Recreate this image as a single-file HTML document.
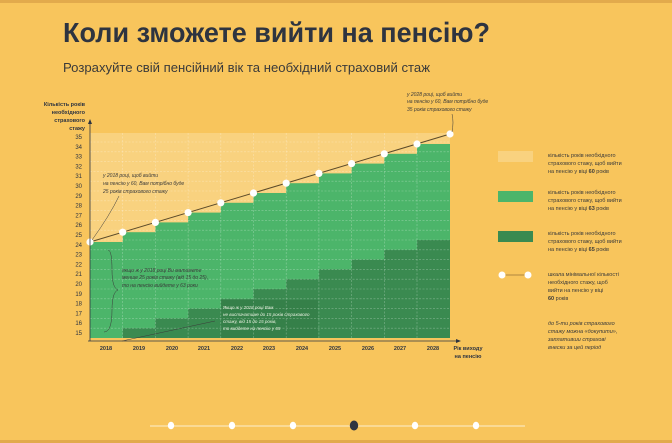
<!DOCTYPE html>
<html><head><meta charset="utf-8"><style>
html,body{margin:0;padding:0;background:#F8C55C;}
svg{display:block;font-family:"Liberation Sans",sans-serif;}
</style></head><body>
<svg width="672" height="443" viewBox="0 0 672 443" xmlns="http://www.w3.org/2000/svg">
<rect width="672" height="443" fill="#F8C55C"/>
<rect width="672" height="3" fill="#E2AA4C"/>
<rect y="440" width="672" height="3" fill="#E2AA4C"/>
<text x="63" y="42" font-size="28" font-weight="bold" fill="#2E3440" textLength="427" lengthAdjust="spacingAndGlyphs">Коли зможете вийти на пенсію?</text>
<text x="63" y="72" font-size="13" fill="#3a3a3a" textLength="367" lengthAdjust="spacingAndGlyphs">Розрахуйте свій пенсійний вік та необхідний страховий стаж</text>

<!-- plot -->
<rect x="90" y="133" width="360" height="205" fill="#F9D27F"/>
<g id="bars"></g>
<g fill="#4CB56A">
<rect x="90" y="242" width="33" height="96"/>
<rect x="122.7" y="232.2" width="33" height="105.8"/>
<rect x="155.4" y="222.4" width="33" height="115.6"/>
<rect x="188.1" y="212.6" width="33" height="125.4"/>
<rect x="220.8" y="202.8" width="33" height="135.2"/>
<rect x="253.5" y="193" width="33" height="145"/>
<rect x="286.2" y="183.2" width="33" height="154.8"/>
<rect x="318.9" y="173.4" width="33" height="164.6"/>
<rect x="351.6" y="163.6" width="33" height="174.4"/>
<rect x="384.3" y="153.8" width="33" height="184.2"/>
<rect x="417" y="144" width="33" height="194"/>
</g>
<g fill="#3A8A50">
<rect x="122.7" y="328.2" width="33" height="9.8"/>
<rect x="155.4" y="318.4" width="33" height="19.6"/>
<rect x="188.1" y="308.6" width="33" height="29.4"/>
<rect x="220.8" y="298.8" width="33" height="39.2"/>
<rect x="253.5" y="289" width="33" height="49"/>
<rect x="286.2" y="279.2" width="33" height="58.8"/>
<rect x="318.9" y="269.4" width="33" height="68.6"/>
<rect x="351.6" y="259.6" width="33" height="78.4"/>
<rect x="384.3" y="249.8" width="33" height="88.2"/>
<rect x="417" y="240" width="33" height="98"/>
</g>
<rect x="221" y="300" width="97" height="38" fill="#357E48" opacity="0.9"/>
<!-- grid -->
<g stroke="#ffffff" stroke-opacity="0.35" stroke-width="0.6" stroke-dasharray="2,1.5">
<line x1="90" x2="450" y1="328.2" y2="328.2"/><line x1="90" x2="450" y1="318.4" y2="318.4"/><line x1="90" x2="450" y1="308.6" y2="308.6"/><line x1="90" x2="450" y1="298.8" y2="298.8"/><line x1="90" x2="450" y1="289" y2="289"/><line x1="90" x2="450" y1="279.2" y2="279.2"/><line x1="90" x2="450" y1="269.4" y2="269.4"/><line x1="90" x2="450" y1="259.6" y2="259.6"/><line x1="90" x2="450" y1="249.8" y2="249.8"/><line x1="90" x2="450" y1="240" y2="240"/><line x1="90" x2="450" y1="230.2" y2="230.2"/><line x1="90" x2="450" y1="220.4" y2="220.4"/><line x1="90" x2="450" y1="210.6" y2="210.6"/><line x1="90" x2="450" y1="200.8" y2="200.8"/><line x1="90" x2="450" y1="191" y2="191"/><line x1="90" x2="450" y1="181.2" y2="181.2"/><line x1="90" x2="450" y1="171.4" y2="171.4"/><line x1="90" x2="450" y1="161.6" y2="161.6"/><line x1="90" x2="450" y1="151.8" y2="151.8"/><line x1="90" x2="450" y1="142" y2="142"/>
<line x1="122.7" x2="122.7" y1="133" y2="338"/><line x1="155.4" x2="155.4" y1="133" y2="338"/><line x1="188.1" x2="188.1" y1="133" y2="338"/><line x1="220.8" x2="220.8" y1="133" y2="338"/><line x1="253.5" x2="253.5" y1="133" y2="338"/><line x1="286.2" x2="286.2" y1="133" y2="338"/><line x1="318.9" x2="318.9" y1="133" y2="338"/><line x1="351.6" x2="351.6" y1="133" y2="338"/><line x1="384.3" x2="384.3" y1="133" y2="338"/><line x1="417" x2="417" y1="133" y2="338"/>
</g>
<!-- dotted line -->
<line x1="90" y1="242" x2="450" y2="134" stroke="#5a4a2a" stroke-width="1"/>
<g fill="#fff">
<circle cx="90" cy="242" r="3.6"/><circle cx="122.7" cy="232.2" r="3.6"/><circle cx="155.4" cy="222.4" r="3.6"/><circle cx="188.1" cy="212.6" r="3.6"/><circle cx="220.8" cy="202.8" r="3.6"/><circle cx="253.5" cy="193" r="3.6"/><circle cx="286.2" cy="183.2" r="3.6"/><circle cx="318.9" cy="173.4" r="3.6"/><circle cx="351.6" cy="163.6" r="3.6"/><circle cx="384.3" cy="153.8" r="3.6"/><circle cx="417" cy="144" r="3.6"/><circle cx="450" cy="134" r="3.6"/>
</g>
<!-- axes -->
<g stroke="#2E3440" stroke-width="0.8" fill="none">
<line x1="90" y1="341" x2="90" y2="122"/><line x1="88" y1="341" x2="458" y2="341"/>
</g>
<path d="M90 119 l-2 5 h4z M461 341 l-5 -2 v4z" fill="#2E3440"/>
<g font-size="6" fill="#2E3440" text-anchor="end">
<text x="82" y="335">15</text><text x="82" y="325.2">16</text><text x="82" y="315.4">17</text><text x="82" y="305.6">18</text><text x="82" y="295.8">19</text><text x="82" y="286">20</text><text x="82" y="276.2">21</text><text x="82" y="266.4">22</text><text x="82" y="256.6">23</text><text x="82" y="246.8">24</text><text x="82" y="237">25</text><text x="82" y="227.2">26</text><text x="82" y="217.4">27</text><text x="82" y="207.6">28</text><text x="82" y="197.8">29</text><text x="82" y="188">30</text><text x="82" y="178.2">31</text><text x="82" y="168.4">32</text><text x="82" y="158.6">33</text><text x="82" y="148.8">34</text><text x="82" y="139">35</text>
</g>
<g font-size="5.5" font-weight="bold" fill="#2E3440" text-anchor="end">
<text x="85" y="106">Кількість років</text><text x="85" y="114">необхідного</text><text x="85" y="122">страхового</text><text x="85" y="130">стажу</text>
</g>
<g font-size="5.5" font-weight="bold" fill="#2E3440" text-anchor="middle">
<text x="106" y="350">2018</text><text x="139" y="350">2019</text><text x="172" y="350">2020</text><text x="204" y="350">2021</text><text x="237" y="350">2022</text><text x="269" y="350">2023</text><text x="302" y="350">2024</text><text x="335" y="350">2025</text><text x="368" y="350">2026</text><text x="400" y="350">2027</text><text x="433" y="350">2028</text>
<text x="468" y="350">Рік виходу</text><text x="468" y="358">на пенсію</text>
</g>
<!-- annotations -->
<g font-size="5" font-style="italic" fill="#3a3a3a">
<text x="407" y="96">у 2028 році, щоб вийти</text><text x="407" y="103">на пенсію у 60, Вам потрібно буде</text><text x="407" y="111">35 років страхового стажу</text>
<text x="103" y="177">у 2018 році, щоб вийти</text><text x="103" y="185">на пенсію у 60, Вам потрібно буде</text><text x="103" y="193">25 років страхового стажу</text>
<text x="122" y="272">якщо ж у 2018 році Ви матимете</text><text x="122" y="279">менше 25 років стажу (від 15 до 25),</text><text x="122" y="287">то на пенсію вийдете у 63 роки</text>
</g>
<g font-size="4.5" font-style="italic" fill="#e8f0e0">
<text x="223" y="309">Якщо ж у 2018 році Вам</text><text x="223" y="316">не вистачатиме до 15 років страхового</text><text x="223" y="323">стажу, від 15 до 15 років,</text><text x="223" y="330">то вийдете на пенсію у 65</text>
</g>
<g stroke="#3a3a3a" stroke-width="0.5" fill="none">
<path d="M92 240 Q110 215 119 196"/><path d="M452 132 Q454 122 452 114"/>
<path d="M108 250 Q112 250 112 270 Q112 288 118 290 Q112 292 112 310 Q112 332 104 332"/>
<path d="M122 341 L215 321"/>
</g>
<!-- legend -->
<rect x="498" y="151" width="35" height="11" fill="#F9D27F"/>
<rect x="498" y="191" width="35" height="11" fill="#4CB56A"/>
<rect x="498" y="231" width="35" height="11" fill="#3A8A50"/>
<line x1="502" y1="275" x2="528" y2="275" stroke="#b08840" stroke-width="1"/>
<circle cx="502" cy="275" r="3.5" fill="#fff"/><circle cx="528" cy="275" r="3.5" fill="#fff"/>
<g font-size="5.5" fill="#3a3a3a">
<text x="548" y="157">кількість років необхідного</text><text x="548" y="165">страхового стажу, щоб вийти</text><text x="548" y="173">на пенсію у віці <tspan font-weight="bold">60</tspan> років</text>
<text x="548" y="194">кількість років необхідного</text><text x="548" y="202">страхового стажу, щоб вийти</text><text x="548" y="210">на пенсію у віці <tspan font-weight="bold">63</tspan> років</text>
<text x="548" y="235">кількість років необхідного</text><text x="548" y="243">страхового стажу, щоб вийти</text><text x="548" y="251">на пенсію у віці <tspan font-weight="bold">65</tspan> років</text>
<text x="548" y="276">шкала мінімальної кількості</text><text x="548" y="284">необхідного стажу, щоб</text><text x="548" y="292">вийти на пенсію у віці</text><text x="548" y="300" font-weight="bold">60 <tspan font-weight="normal">років</tspan></text>
<g font-style="italic"><text x="548" y="325">до 5-ти років страхового</text><text x="548" y="333">стажу можна «докупити»,</text><text x="548" y="341">заплативши страхові</text><text x="548" y="349">внески за цей період</text></g>
</g>
<!-- nav -->
<line x1="150" y1="426" x2="525" y2="426" stroke="#fff" stroke-opacity="0.7" stroke-width="1"/>
<g fill="#fff"><ellipse cx="171" cy="425.5" rx="3.2" ry="3.8"/><ellipse cx="232" cy="425.5" rx="3.2" ry="3.8"/><ellipse cx="293" cy="425.5" rx="3.2" ry="3.8"/><ellipse cx="415" cy="425.5" rx="3.2" ry="3.8"/><ellipse cx="476" cy="425.5" rx="3.2" ry="3.8"/></g>
<ellipse cx="354" cy="425.5" rx="4.2" ry="5" fill="#2E3440"/>
</svg>
</body></html>
